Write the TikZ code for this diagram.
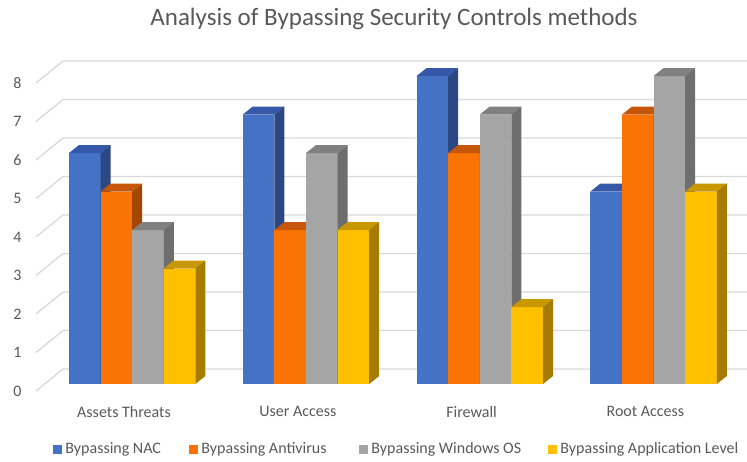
\documentclass[tikz,border=0pt]{standalone}
\usepackage{fontspec}
\setmainfont{Carlito}
\usetikzlibrary{positioning, calc}
\definecolor{labelgray}{HTML}{595959}
\definecolor{gridgray}{HTML}{D9D9D9}
\definecolor{nac-f}{HTML}{4472C4}
\definecolor{nac-t}{HTML}{3558A8}
\definecolor{nac-s}{HTML}{2C4883}
\definecolor{av-f}{HTML}{FA7304}
\definecolor{av-t}{HTML}{C5560A}
\definecolor{av-s}{HTML}{A44500}
\definecolor{win-f}{HTML}{A5A5A5}
\definecolor{win-t}{HTML}{808080}
\definecolor{win-s}{HTML}{6E6E6E}
\definecolor{app-f}{HTML}{FFC000}
\definecolor{app-t}{HTML}{C99700}
\definecolor{app-s}{HTML}{A67C00}

\begin{document}
\begin{tikzpicture}[
    x=1pt, y=-1pt,
    font=\fontsize{16}{19}\selectfont,
    gridline/.style={
        draw=gridgray,
        line width=1.3pt
    },
    axislabel/.style={
        text=labelgray,
        anchor=center,
        inner sep=0pt
    },
    catlabel/.style={
        text=labelgray,
        anchor=center,
        inner sep=0pt
    },
    titletext/.style={
        text=labelgray,
        font=\fontsize{25}{30}\selectfont,
        anchor=center
    },
    legendbox/.style={
        minimum size=9pt,
        inner sep=0pt
    },
    legendtext/.style={
        text=labelgray,
        inner sep=0pt
    }
]
\useasboundingbox (0,0) rectangle (747,461);
% ============================================================
% TITLE
% ============================================================
\node[titletext] (title) at (394,19) {Analysis of Bypassing Security Controls methods};
% ============================================================
% GRID -- floor edge, back wall, value labels
% ============================================================
\foreach \v in {0,...,8} {
    \draw[gridline] (36,{391-38.5*\v}) -- ++(27,-22) -- (747,{369-38.5*\v});
    \node[axislabel] (tick\v) at (17.5,{391-38.5*\v}) {\v};
}
% ============================================================
% BARS -- front face, top, right side
% ============================================================
\foreach \name/\a/\b/\c/\d [count=\g from 0] in {
    Assets Threats/6/5/4/3,
    User Access/7/4/6/4,
    Firewall/8/6/7/2,
    Root Access/5/7/8/5} {
    \foreach \v/\col [count=\k from 0] in {\a/nac,\b/av,\c/win,\d/app} {
        \pgfmathsetmacro\xl{69+173.8*\g+31.6*\k}
        \pgfmathsetmacro\ytop{384-38.5*\v}
        \fill[\col-f] (\xl,384) rectangle ({\xl+31.6},\ytop);
        \fill[\col-t] (\xl,\ytop) -- ++(10,-8) -- ++(31.6,0) -- ++(-10,8) -- cycle;
        \fill[\col-s] ({\xl+31.6},384) -- ({\xl+31.6},\ytop) -- ++(10,-8)
            -- ({\xl+41.6},376) -- cycle;
    }
    \node[catlabel] (cat\g) at ({124+173.8*\g},411.7) {\name};
}
% ============================================================
% LEGEND
% ============================================================
\node[legendbox, fill=nac-f] (keynac) at (57,449) {};
\node[legendtext, right=3.5pt of keynac] (txtnac) {Bypassing NAC};
\node[legendbox, fill=av-f] (keyav) at (193,449) {};
\node[legendtext, right=3.5pt of keyav] (txtav) {Bypassing Antivirus};
\node[legendbox, fill=win-f] (keywin) at (363,449) {};
\node[legendtext, right=3.5pt of keywin] (txtwin) {Bypassing Windows OS};
\node[legendbox, fill=app-f] (keyapp) at (552,449) {};
\node[legendtext, right=3.5pt of keyapp] (txtapp) {Bypassing Application Level};
\end{tikzpicture}
\end{document}
